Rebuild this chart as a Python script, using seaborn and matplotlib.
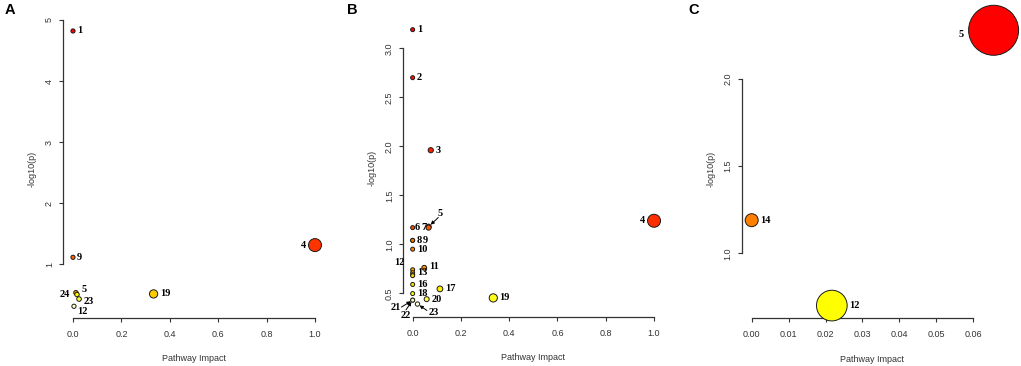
import numpy as np
import pandas as pd
import matplotlib
matplotlib.use("Agg")
import matplotlib.pyplot as plt
import seaborn as sns
from matplotlib.colors import hsv_to_rgb, to_hex

# ---------------- data ----------------
A_labels = ["1", "4", "9", "5", "19", "24", "23", "12"]
A_impact = [0.0, 1.0, 0.0, 0.012, 0.333, 0.0165, 0.025, 0.004]
A_logp = [4.82, 1.31, 1.11, 0.53, 0.51, 0.50, 0.426, 0.307]

B_labels = ["1", "2", "3", "4", "5", "6", "7", "8", "9", "10", "11", "12",
            "13", "14", "15", "16", "17", "18", "19", "20", "21", "22", "23"]
B_impact = [0.0, 0.0, 0.075, 1.0, 0.066, 0.0, 0.066, 0.0, 0.0, 0.0, 0.048, 0.0,
            0.0, 0.0, 0.0, 0.0, 0.113, 0.0, 0.334, 0.058, 0.0, 0.0, 0.02]
B_logp = [3.19, 2.70, 1.96, 1.24, 1.18, 1.17, 1.17, 1.04, 1.04, 0.95, 0.76, 0.74,
          0.71, 0.69, 0.68, 0.59, 0.545, 0.497, 0.453, 0.44, 0.43, 0.43, 0.39]

C_labels = ["5", "14", "12"]
C_impact = [0.0655, 0.0, 0.0217]
C_logp = [2.28, 1.19, 0.70]

A_xticks = [0.0, 0.2, 0.4, 0.6, 0.8, 1.0]
A_yticks = [1, 2, 3, 4, 5]
B_xticks = [0.0, 0.2, 0.4, 0.6, 0.8, 1.0]
B_yticks = [0.5, 1.0, 1.5, 2.0, 2.5, 3.0]
C_xticks = [0.00, 0.01, 0.02, 0.03, 0.04, 0.05, 0.06]
C_yticks = [1.0, 1.5, 2.0]

# ---------------- style ----------------
sns.set_style("ticks")
plt.rcParams["font.family"] = ["Liberation Sans", "DejaVu Sans"]
AX_COL = "#333333"


def heat_colors(n):
    """R's heat.colors(n)"""
    j = n // 4
    i = n - j
    hs = np.linspace(0, 1 / 6, i) if i > 1 else np.array([0.0])
    cols = [to_hex(hsv_to_rgb((h, 1, 1))) for h in hs]
    if j > 0:
        ss = np.linspace(1 - 1 / (2 * j), 1 / (2 * j), j)
        cols += [to_hex(hsv_to_rgb((1 / 6, s, 1))) for s in ss]
    return cols


W, H = 1021, 366
fig = plt.figure(figsize=(W / 100, H / 100), dpi=100)


def px_rect(left, right, top, bottom):
    return [left / W, 1 - bottom / H, (right - left) / W, (bottom - top) / H]


# label placement (layout only): kind, dx, dy[, ha]; "arrow": label offset + arrow-tail offset
panels = [
    dict(name="A", labels=A_labels, impact=A_impact, logp=A_logp,
         rect=px_rect(63, 325, 20, 318), xlim=(-0.0413, 1.0413), ylim=(0.115, 5.0),
         xticks=A_xticks, yticks=A_yticks, xfmt="{:.1f}", yfmt="{:.0f}",
         sizes=(9.0, 87.6), letter_x=5,
         place={"4": ("l", 0, 0), "24": ("l", -1.6, 0), "5": ("abs", 4.3, 2.0, "left"),
                "23": ("abs", 3.3, -2.0, "left"), "12": ("abs", 2.2, -3.9, "left")}),
    dict(name="B", labels=B_labels, impact=B_impact, logp=B_logp,
         rect=px_rect(403, 663.7, 18.9, 316.7), xlim=(-0.04, 1.04), ylim=(0.261, 3.30),
         xticks=B_xticks, yticks=B_yticks, xfmt="{:.1f}", yfmt="{:.1f}",
         sizes=(8.3, 87.6), letter_x=347,
         place={"4": ("l", 0, 0), "6": ("r", -1.3, 0), "7": ("l", 2.2, 0),
                "9": ("abs", 7.3, 0, "left"),
                "11": ("r", 0, 1.2), "12": ("abs", -9.4, 5.0, "center"),
                "14": None, "15": None,
                "5": ("arrow", 8.6, 9.6, 7.0, 6.6), "21": ("arrow", -12.0, -5.5, -8.1, -5.0),
                "22": ("arrow", -5.0, -11.0, -4.8, -7.0), "23": ("arrow", 11.4, -6.0, 6.8, -4.6)}),
    dict(name="C", labels=C_labels, impact=C_impact, logp=C_logp,
         rect=px_rect(741.7, 1003.2, 19.3, 318.3), xlim=(-0.0027, 0.0681), ylim=(0.627, 2.343),
         xticks=C_xticks, yticks=C_yticks, xfmt="{:.2f}", yfmt="{:.1f}",
         sizes=(87.6, 1296.0), letter_x=688,
         place={"5": ("l", -2.0, -3.0)}),
]

for p in panels:
    ax = fig.add_axes(p["rect"])
    n = len(p["labels"])
    df = pd.DataFrame({"label": p["labels"], "impact": p["impact"], "logp": p["logp"]})
    order = np.argsort(-df["logp"].to_numpy(), kind="stable")
    cols = heat_colors(n)
    pal = {}
    for rank, idx in enumerate(order):
        pal[df["label"].iloc[idx]] = cols[rank]
    imin, imax = df["impact"].min(), df["impact"].max()
    sns.scatterplot(data=df, x="impact", y="logp", hue="label", palette=pal,
                    size="impact", sizes=p["sizes"], size_norm=(imin, imax),
                    edgecolor="#1a1a1a", linewidth=0.7, legend=False, ax=ax, zorder=3)
    for coll in ax.collections:
        coll.set_clip_on(False)

    smin, smax = p["sizes"]
    for lab, x, y in zip(df["label"], df["impact"], df["logp"]):
        s = smin + (x - imin) / (imax - imin) * (smax - smin)
        r = np.sqrt(s) / 2
        pl = p["place"].get(lab, ("r", 0, 0))
        if pl is None:
            continue
        kw = dict(textcoords="offset points", fontsize=7.5, fontweight="bold",
                  family="Liberation Serif", va="center", zorder=5,
                  annotation_clip=False, color="black")
        if pl[0] == "r":
            ax.annotate(lab, (x, y), xytext=(r + 1.5 + pl[1], pl[2]), ha="left", **kw)
        elif pl[0] == "l":
            ax.annotate(lab, (x, y), xytext=(-(r + 1.5) + pl[1], pl[2]), ha="right", **kw)
        elif pl[0] == "abs":
            ax.annotate(lab, (x, y), xytext=(pl[1], pl[2]), ha=pl[3], **kw)
        elif pl[0] == "arrow":
            ax.annotate(lab, (x, y), xytext=(pl[1], pl[2]), ha="center", **kw)
            ax.annotate("", (x, y), xytext=(pl[3], pl[4]), textcoords="offset points",
                        annotation_clip=False, zorder=5,
                        arrowprops=dict(arrowstyle="-|>", color="black", lw=0.7,
                                        mutation_scale=5, shrinkA=0, shrinkB=r + 0.2))

    ax.set_xlim(*p["xlim"])
    ax.set_ylim(*p["ylim"])
    ax.set_xticks(p["xticks"])
    ax.set_yticks(p["yticks"])
    ax.set_xticklabels([p["xfmt"].format(v) for v in p["xticks"]])
    ax.set_yticklabels([p["yfmt"].format(v) for v in p["yticks"]])
    for side in ("top", "right"):
        ax.spines[side].set_visible(False)
    ax.spines["left"].set_bounds(p["yticks"][0], p["yticks"][-1])
    ax.spines["bottom"].set_bounds(p["xticks"][0], p["xticks"][-1])
    for side in ("left", "bottom"):
        ax.spines[side].set_color(AX_COL)
        ax.spines[side].set_linewidth(0.9)
    ax.tick_params(axis="both", colors=AX_COL, length=3, width=0.8, labelsize=6.5)
    ax.tick_params(axis="x", pad=5.5)
    ax.tick_params(axis="y", pad=3.5, labelrotation=90)
    for t in ax.get_yticklabels():
        t.set_va("center")
    ax.set_xlabel("Pathway Impact", fontsize=6.5, color=AX_COL)
    ax.set_ylabel("-log10(p)", fontsize=6.5, color=AX_COL)
    ax.xaxis.set_label_coords(0.5, -0.122)
    ax.yaxis.set_label_coords(-0.1, 0.5)
    ax.set_facecolor("none")
    fig.text(p["letter_x"] / W, 1 - 3 / H, p["name"], fontsize=10.5, fontweight="bold",
             ha="left", va="top", color="black")

fig.savefig("out.png", dpi=100)
